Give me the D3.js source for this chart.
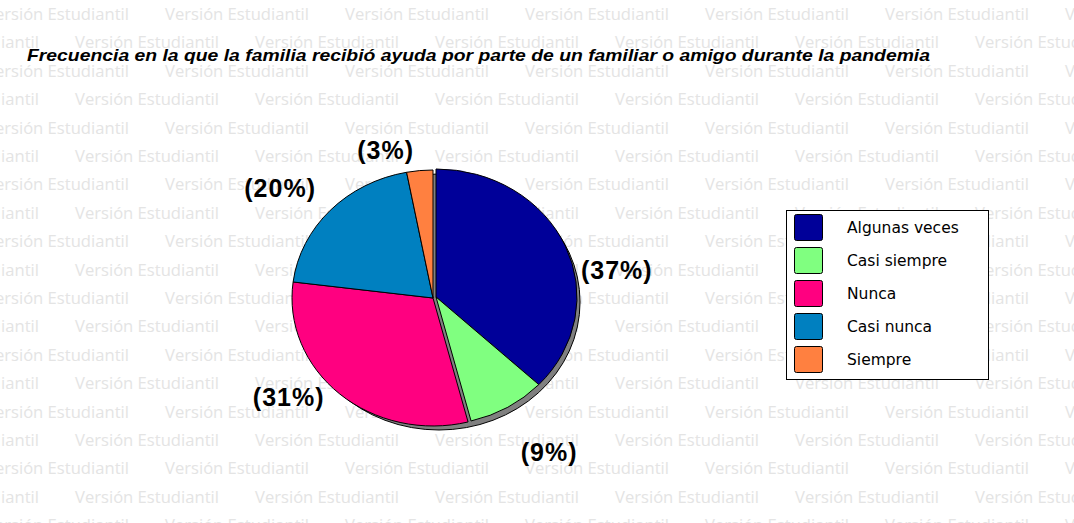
<!DOCTYPE html>
<html>
<head>
<meta charset="utf-8">
<script src="https://cdn.jsdelivr.net/npm/d3@7"></script>
<style>
    body { margin: 0; background: #ffffff; }
    svg { display: block; }
</style>
</head>
<body>
<svg id="pie-chart" width="1074" height="523"></svg>
<script>
var categories = ["Algunas veces", "Casi siempre", "Nunca", "Casi nunca", "Siempre"]
var percents = [37, 9, 31, 20, 3]
var colors = ["#000099", "#80ff80", "#ff0080", "#0080c0", "#ff8040"]
var titleText = "Frecuencia en la que la familia recibió ayuda por parte de un familiar o amigo durante la pandemia"
var watermarkText = "Versión Estudiantil"

// the two right slices sit a few pixels apart from the rest, like in the original
var shiftedSlices = ["Algunas veces", "Casi siempre"]
// hand nudges for the percent labels
var labelNudge = [[11, 36], [19, 16], [-22, -21], [-18, 0], [-30, 11]]

var svg = d3.select("#pie-chart")
var width = +svg.attr("width")
var height = +svg.attr("height")

// watermark background
var wm = svg.append("g").attr("class", "watermark")
var probe = wm.append("text")
    .attr("font-family", "Open Sans")
    .attr("font-size", 16)
    .text(watermarkText)
var wmSize = 16 * 144 / probe.node().getComputedTextLength()
probe.remove()

var rowCount = d3.range(19)
rowCount.forEach(function (i) {
    var start = i % 2 === 0 ? -15 : 75
    var xs = d3.range(start - 180, width + 20, 180)
    wm.append("g")
        .selectAll("text")
        .data(xs)
        .enter().append("text")
        .attr("x", d => d)
        .attr("y", 20 + 28.4 * i)
        .attr("font-family", "Open Sans")
        .attr("font-size", wmSize)
        .attr("fill", "#e4e4e4")
        .text(watermarkText)
})

// title
svg.append("text")
    .attr("x", 27)
    .attr("y", 61)
    .attr("font-family", "Liberation Sans, Arial, sans-serif")
    .attr("font-size", 17)
    .attr("font-weight", "bold")
    .attr("font-style", "italic")
    .attr("fill", "#000")
    .attr("textLength", 903)
    .attr("lengthAdjust", "spacingAndGlyphs")
    .text(titleText)

// pie
var cx = 433, cy = 298
var rx = 141, ry = 128
var shift = [3, -1]

var pie = d3.pie().value(d => d).sort(null)
var dataReady = pie(percents)
var arc = d3.arc().innerRadius(0).outerRadius(rx)

// shadow
svg.append("g")
    .attr("transform", "translate(" + (cx + shift[0] + 3) + "," + (cy + 4) + ") scale(1," + (ry / rx) + ")")
    .append("path")
    .attr("d", arc({ startAngle: 0, endAngle: 2 * Math.PI }))
    .attr("fill", "#808080")
    .attr("stroke", "#000")
    .attr("stroke-width", 1)
    .attr("vector-effect", "non-scaling-stroke")

svg.append("g")
    .attr("class", "slices")
    .selectAll("g")
    .data(dataReady)
    .enter().append("g")
    .attr("transform", function (d, i) {
        var off = shiftedSlices.indexOf(categories[i]) >= 0 ? shift : [0, 0]
        return "translate(" + (cx + off[0]) + "," + (cy + off[1]) + ") scale(1," + (ry / rx) + ")"
    })
    .append("path")
    .attr("d", arc)
    .attr("fill", (d, i) => colors[i])
    .attr("stroke", "#000")
    .attr("stroke-width", 1)
    .attr("stroke-linejoin", "round")
    .attr("vector-effect", "non-scaling-stroke")

// percent labels
var labelRx = rx + 44, labelRy = ry + 32
svg.append("g")
    .attr("class", "pct-labels")
    .selectAll("text")
    .data(dataReady)
    .enter().append("text")
    .attr("x", function (d, i) {
        var a = (d.startAngle + d.endAngle) / 2
        var off = shiftedSlices.indexOf(categories[i]) >= 0 ? shift[0] : 0
        return cx + off + Math.sin(a) * labelRx + labelNudge[i][0]
    })
    .attr("y", function (d, i) {
        var a = (d.startAngle + d.endAngle) / 2
        return cy - Math.cos(a) * labelRy + labelNudge[i][1]
    })
    .attr("dy", "0.36em")
    .attr("text-anchor", "middle")
    .attr("font-family", "Liberation Sans, Arial, sans-serif")
    .attr("font-size", 25)
    .attr("font-weight", "bold")
    .attr("letter-spacing", 1)
    .attr("fill", "#000")
    .text(d => "(" + d.data + "%)")

// legend
var legend = svg.append("g").attr("class", "legend")
var legendY = d3.scaleBand().domain(categories).range([214, 379]).paddingInner(0)

legend.append("rect")
    .attr("x", 786.5)
    .attr("y", 210.5)
    .attr("width", 202)
    .attr("height", 169)
    .attr("fill", "#fff")
    .attr("stroke", "#000")
    .attr("stroke-width", 1)

legend.selectAll(".swatch")
    .data(categories)
    .enter().append("rect")
    .attr("class", "swatch")
    .attr("x", 794.5)
    .attr("y", d => legendY(d) + 0.5)
    .attr("width", 28)
    .attr("height", 26)
    .attr("rx", 2)
    .attr("fill", (d, i) => colors[i])
    .attr("stroke", "#000")
    .attr("stroke-width", 1)

legend.selectAll(".legend-label")
    .data(categories)
    .enter().append("text")
    .attr("class", "legend-label")
    .attr("x", 847)
    .attr("y", d => legendY(d) + 19)
    .attr("font-family", "DejaVu Sans, sans-serif")
    .attr("font-size", 15.5)
    .attr("fill", "#000")
    .text(d => d)
</script>
</body>
</html>
